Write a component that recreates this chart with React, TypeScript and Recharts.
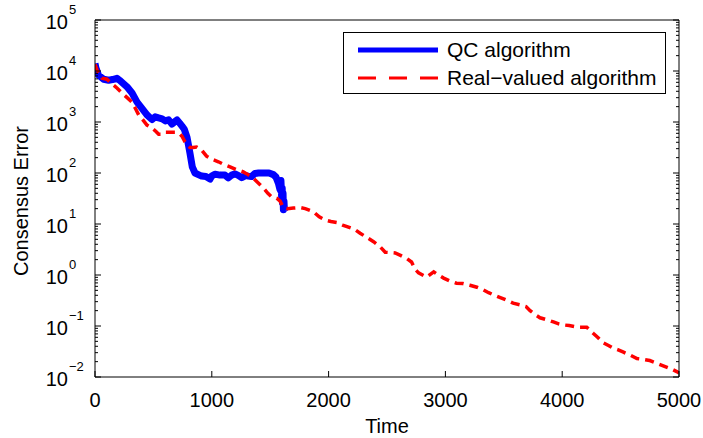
import React from 'react';
import { LineChart, Line, XAxis, YAxis, Legend } from 'recharts';

// QC algorithm trace (time, consensus error)
const qcTime = [
  0, 8, 30, 74, 117, 150, 188, 210, 231, 274, 317, 360, 402, 445, 488, 515, 545, 575, 602, 630,
  659, 680, 702, 725, 745, 765, 788, 800, 813, 833, 856, 885, 913, 950, 985, 1000, 1027, 1070,
  1113, 1141, 1170, 1199, 1230, 1256, 1290, 1313, 1340, 1370, 1400, 1430, 1456, 1490, 1527, 1550,
  1570, 1584, 1592, 1598, 1603, 1605, 1610, 1613, 1618, 1622,
];
const qcError = [
  14000, 11500, 8300, 6900, 6600, 6800, 7200, 6600, 6000, 4900, 3700, 2450, 1850, 1380, 1120, 1260,
  1200, 1150, 1050, 1100, 910, 1000, 1100, 950, 830, 720, 500, 355, 245, 132, 100, 93, 87, 85, 76,
  87, 95, 91, 91, 80, 91, 96, 89, 81, 89, 87, 85, 98, 100, 100, 100, 100, 93, 83, 63, 47, 71, 34,
  50, 26, 40, 19, 28, 18,
];

// Real-valued algorithm trace
const realTime = [
  0, 17, 60, 102, 145, 190, 231, 275, 317, 345, 374, 410, 445, 488, 520, 545, 575, 600, 631, 688,
  720, 745, 770, 788, 813, 840, 870, 913, 955, 1000, 1056, 1100, 1156, 1210, 1270, 1310, 1355,
  1400, 1441, 1480, 1513, 1556, 1585, 1613, 1650, 1698, 1755, 1800, 1870, 1920, 1970, 2020, 2070,
  2120, 2170, 2220, 2270, 2330, 2385, 2440, 2485, 2530, 2570, 2620, 2670, 2710, 2740, 2770, 2840,
  2900, 2940, 2985, 3040, 3095, 3150, 3210, 3270, 3325, 3370, 3410, 3470, 3525, 3580, 3640, 3690,
  3725, 3770, 3810, 3870, 3925, 3970, 4010, 4060, 4125, 4170, 4210, 4265, 4310, 4350, 4400, 4435,
  4480, 4520, 4580, 4640, 4700, 4750, 4800, 4865, 4930, 4985, 5000,
];
const realError = [
  13500, 10500, 7200, 6900, 5600, 4600, 3700, 3000, 2450, 1860, 1380, 1100, 870, 760, 660, 575,
  575, 630, 630, 630, 600, 525, 410, 355, 316, 316, 324, 282, 214, 186, 166, 148, 132, 117, 105,
  93, 79, 63, 51, 40, 34, 32, 28, 21, 20, 20.5, 21, 20, 17.4, 13.8, 12, 11.2, 10.7, 9.5, 8.7, 7.9,
  6.6, 5.4, 4.5, 3.6, 2.8, 2.75, 2.7, 2.4, 2.1, 1.8, 1.3, 1.1, 0.91, 1.15, 1.0, 0.87, 0.76, 0.69,
  0.68, 0.63, 0.575, 0.51, 0.45, 0.41, 0.36, 0.32, 0.28, 0.26, 0.24, 0.2, 0.166, 0.145, 0.132,
  0.12, 0.11, 0.105, 0.102, 0.095, 0.095, 0.095, 0.072, 0.058, 0.047, 0.041, 0.037, 0.034, 0.031,
  0.027, 0.023, 0.022, 0.021, 0.019, 0.0166, 0.0145, 0.0126, 0.012,
];

const timeTicks = [0, 1000, 2000, 3000, 4000, 5000];
const decadeExponents = [-2, -1, 0, 1, 2, 3, 4, 5];

const qcData = qcTime.map((t, i) => ({ time: t, error: qcError[i] }));
const realData = realTime.map((t, i) => ({ time: t, error: realError[i] }));

// decades plus the 2..9 minor ticks in between
const errorTicks: number[] = [];
decadeExponents.forEach((e) => {
  errorTicks.push(Math.pow(10, e));
  if (e < 5) {
    for (let m = 2; m <= 9; m++) errorTicks.push(m * Math.pow(10, e));
  }
});

const FONT = '"Liberation Sans", Arial, Helvetica, sans-serif';

const isDecade = (v: number) => {
  const e = Math.log10(v);
  return Math.abs(e - Math.round(e)) < 1e-6;
};

const LeftTick = ({ x, y, payload }: any) => {
  const v = payload.value;
  const major = isDecade(v);
  const e = Math.round(Math.log10(v));
  const exp = e < 0 ? '\u2212' + -e : String(e);
  return (
    <g>
      <line x1={x} y1={y} x2={x + (major ? 6 : 3)} y2={y} stroke="#000" />
      {major && (
        <g fontFamily={FONT} fill="#000">
          <text x={x - 27} y={y + 9} textAnchor="end" fontSize={20}>10</text>
          <text x={x - 26} y={y - 6} textAnchor="start" fontSize={13}>{exp}</text>
        </g>
      )}
    </g>
  );
};

const RightTick = ({ x, y, payload }: any) => {
  const major = isDecade(payload.value);
  return <line x1={x} y1={y} x2={x - (major ? 6 : 3)} y2={y} stroke="#000" />;
};

const BottomTick = ({ x, y, payload }: any) => (
  <g>
    <line x1={x} y1={y} x2={x} y2={y - 6} stroke="#000" />
    <text x={x} y={y + 30} textAnchor="middle" fontSize={20} fontFamily={FONT} fill="#000">
      {payload.value}
    </text>
  </g>
);

const TopTick = ({ x, y }: any) => <line x1={x} y1={y} x2={x} y2={y + 6} stroke="#000" />;

const renderLegend = () => (
  <div style={{ width: 321, height: 60, border: '1px solid #000', background: '#fff' }}>
    <svg width={321} height={60} style={{ display: 'block' }}>
      <line x1={14} y1={17} x2={94} y2={17} stroke="#0000ff" strokeWidth={5} />
      <text x={103} y={24} fontSize={21} fontFamily={FONT} fill="#000">QC algorithm</text>
      <line x1={14} y1={45} x2={94} y2={45} stroke="#ff0000" strokeWidth={3} strokeDasharray="18 13" />
      <text x={103} y={52} fontSize={21} fontFamily={FONT} fill="#000">Real−valued algorithm</text>
    </svg>
  </div>
);

export default function App() {
  return (
    <div style={{ position: 'absolute', left: 0, top: 0, background: '#fff' }}>
      <LineChart
        width={703}
        height={438}
        margin={{ top: 19, right: 23, bottom: 60, left: 94 }}
        style={{ fontFamily: FONT }}
      >
        <XAxis
          xAxisId="bottom"
          dataKey="time"
          type="number"
          domain={[0, 5000]}
          ticks={timeTicks}
          interval={0}
          height={1}
          tickSize={0}
          tickMargin={0}
          axisLine={{ stroke: '#000' }}
          tick={BottomTick}
          allowDataOverflow
          label={{
            content: () => (
              <text x={387} y={433} textAnchor="middle" fontSize={20} fontFamily={FONT} fill="#000">
                Time
              </text>
            ),
          }}
        />
        <XAxis
          xAxisId="top"
          orientation="top"
          type="number"
          domain={[0, 5000]}
          ticks={timeTicks}
          interval={0}
          height={1}
          tickSize={0}
          tickMargin={0}
          axisLine={{ stroke: '#000' }}
          tick={TopTick}
          allowDataOverflow
        />
        <YAxis
          yAxisId="left"
          scale="log"
          domain={[0.01, 100000]}
          ticks={errorTicks}
          interval={0}
          width={1}
          tickSize={0}
          tickMargin={0}
          axisLine={{ stroke: '#000' }}
          tick={LeftTick}
          allowDataOverflow
          label={{
            content: () => (
              <text
                x={28}
                y={201}
                transform="rotate(-90 28 201)"
                textAnchor="middle"
                fontSize={20}
                fontFamily={FONT}
                fill="#000"
              >
                Consensus Error
              </text>
            ),
          }}
        />
        <YAxis
          yAxisId="right"
          orientation="right"
          scale="log"
          domain={[0.01, 100000]}
          ticks={errorTicks}
          interval={0}
          width={1}
          tickSize={0}
          tickMargin={0}
          axisLine={{ stroke: '#000' }}
          tick={RightTick}
          allowDataOverflow
        />
        <Legend
          layout="horizontal"
          verticalAlign="middle"
          align="center"
          content={renderLegend}
          wrapperStyle={{ left: 343, top: 32, width: 323, height: 62 }}
        />
        <Line
          name="QC algorithm"
          data={qcData}
          dataKey="error"
          xAxisId="bottom"
          yAxisId="left"
          type="linear"
          stroke="#0000ff"
          strokeWidth={7}
          strokeLinejoin="round"
          dot={false}
          isAnimationActive={false}
        />
        <Line
          name="Real−valued algorithm"
          data={realData}
          dataKey="error"
          xAxisId="bottom"
          yAxisId="left"
          type="linear"
          stroke="#ff0000"
          strokeWidth={3.5}
          strokeDasharray="9 6"
          dot={false}
          isAnimationActive={false}
        />
      </LineChart>
    </div>
  );
}
